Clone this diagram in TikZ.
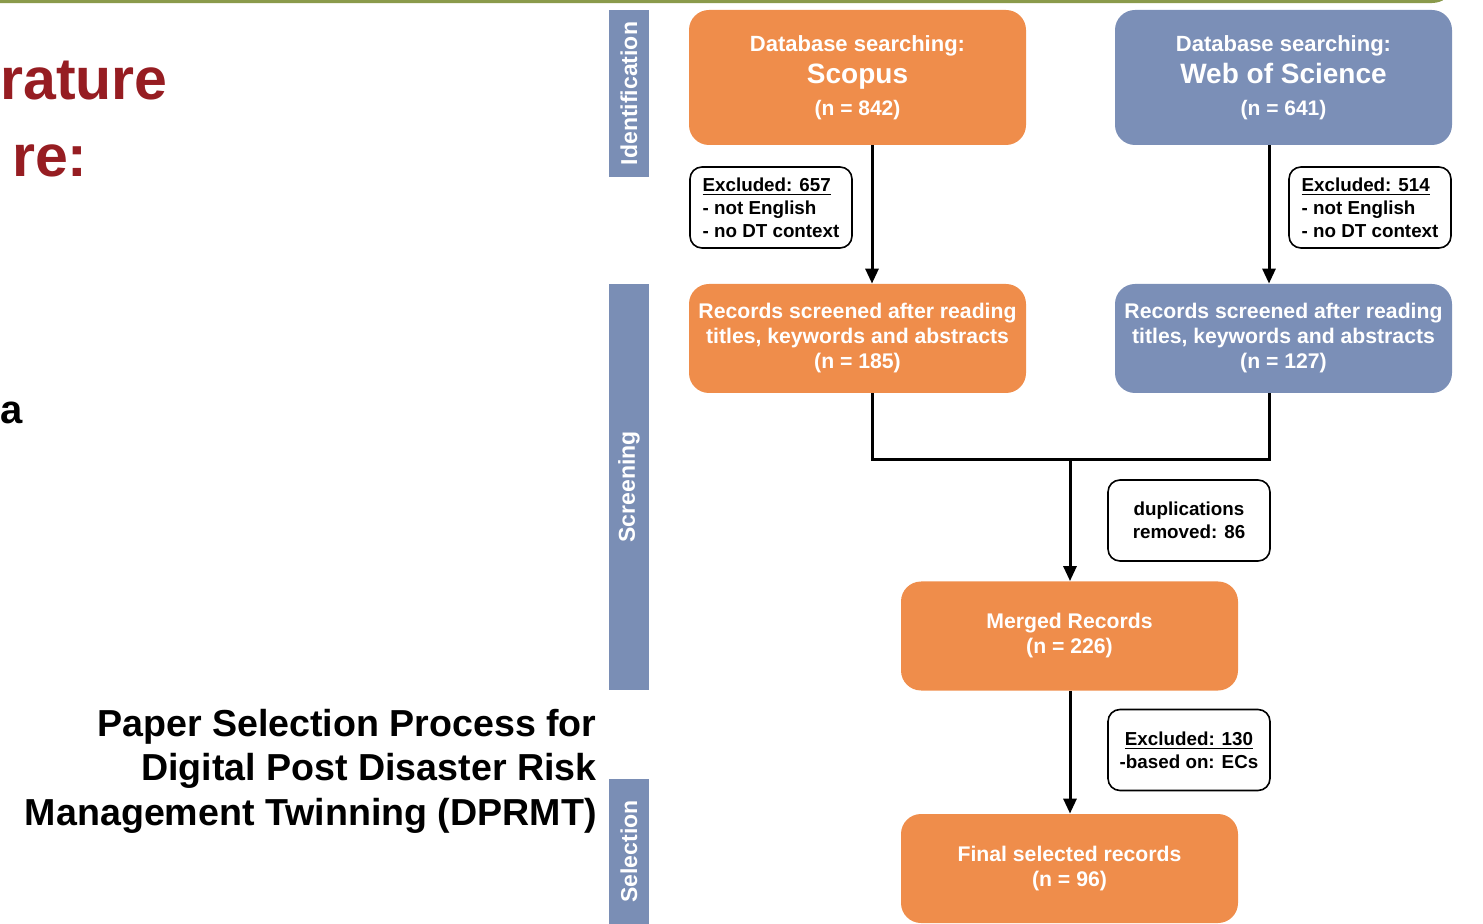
\documentclass[tikz,border=0pt]{standalone}
\usepackage{fontspec}
\setmainfont{Liberation Sans}
\usetikzlibrary{arrows.meta}
\definecolor{scopusorange}{RGB}{239,141,75}
\definecolor{wosblue}{RGB}{123,143,183}
\definecolor{stagefill}{RGB}{122,142,181}
\definecolor{titlered}{RGB}{150,29,34}
\definecolor{topgreen}{RGB}{138,154,75}
\newcommand{\flowline}{1.5pt}
\newcommand{\biground}{10pt}
\newcommand{\smallround}{6pt}

\tikzset{
  dbbox/.style={rounded corners=\biground, minimum width=168.5pt, minimum height=67.5pt,
    inner sep=0pt, text=white, align=center, font=\fontsize{11}{16}\selectfont\bfseries},
  recbox/.style={dbbox, minimum height=54.5pt, font=\fontsize{10.6}{12.5}\selectfont\bfseries},
  notebox/.style={draw=black, line width=0.8pt, fill=white, rounded corners=\smallround,
    minimum width=81pt, minimum height=40.5pt, inner sep=0pt,
    font=\fontsize{9.4}{11.5}\selectfont\bfseries},
  stagebar/.style={fill=stagefill, text=white, rotate=90, minimum height=20pt, inner sep=0pt,
    font=\fontsize{11.5}{13}\selectfont\bfseries},
  headtext/.style={anchor=base east, inner sep=0pt, text=titlered, font=\fontsize{29.5}{34}\selectfont\bfseries},
  flow/.style={line width=\flowline},
  >={Triangle[length=7.5pt,width=6.5pt]}
}

\begin{document}
\begin{tikzpicture}[x=0.5pt,y=-0.5pt]
\useasboundingbox (0,0) rectangle (1483,924);
%top rule
\draw[topgreen, line width=1.6pt] (0,1.5) -- (1430,1.5) .. controls (1440,1.5) and (1445,-2) .. (1447,-6);
%heading
\node[headtext] (head1) at (168,100) {rature};
\node[headtext] (head2) at (88,177) {re:};
\node[anchor=base west, inner sep=0pt, font=\fontsize{20}{24}\selectfont\bfseries] (stray) at (0,424) {a};
\node[anchor=east, inner sep=0pt, align=right, font=\fontsize{18.8}{22.25}\selectfont\bfseries] (title) at (597,771)
  {Paper Selection Process for\\Digital Post Disaster Risk\\Management Twinning (DPRMT)};
%stages
\node[stagebar, minimum width=83.5pt] (ident) at (629,93.5) {Identification};
\node[stagebar, minimum width=203pt] (screen) at (629,487) {Screening};
\node[stagebar, minimum width=72.5pt] (select) at (629,851.5) {Selection};
%boxes
\node[dbbox, fill=scopusorange] (scopus) at (857.5,77.5)
  {Database searching:\\{\fontsize{14}{16}\selectfont Scopus}\\{\fontsize{10.5}{16}\selectfont (n = 842)}};
\node[dbbox, fill=wosblue] (wos) at (1283.5,77.5)
  {Database searching:\\{\fontsize{14}{16}\selectfont Web of Science}\\{\fontsize{10.5}{16}\selectfont (n = 641)}};
\node[notebox, align=left] (exscopus) at (771,207.5) {\underline{Excluded: 657}\\- not English\\- no DT context};
\node[notebox, align=left] (exwos) at (1370,207.5) {\underline{Excluded: 514}\\- not English\\- no DT context};
\node[recbox, fill=scopusorange] (rec1) at (857.5,338.5)
  {Records screened after reading\\titles, keywords and abstracts\\(n = 185)};
\node[recbox, fill=wosblue] (rec2) at (1283.5,338.5)
  {Records screened after reading\\titles, keywords and abstracts\\(n = 127)};
\node[notebox, align=center] (dupl) at (1189,520.5) {duplications\\removed: 86};
\node[recbox, fill=scopusorange] (merged) at (1069.5,636) {Merged Records\\(n = 226)};
\node[notebox, align=center] (exmerged) at (1189,750) {\underline{Excluded: 130}\\-based on: ECs};
\node[recbox, fill=scopusorange] (final) at (1069.5,868.5) {Final selected records\\(n = 96)};
%flow lines
\coordinate (lx) at (872,0);
\coordinate (rx) at (1269,0);
\coordinate (join) at (1070,460);
\draw[flow,->] (scopus.south -| lx) -- (rec1.north -| lx);
\draw[flow,->] (wos.south -| rx) -- (rec2.north -| rx);
\draw[flow] (rec1.south -| lx) |- (join) -| (rec2.south -| rx);
\draw[flow,->] (join) -- (merged.north -| join);
\draw[flow,->] (merged.south -| join) -- (final.north -| join);
\end{tikzpicture}
\end{document}
